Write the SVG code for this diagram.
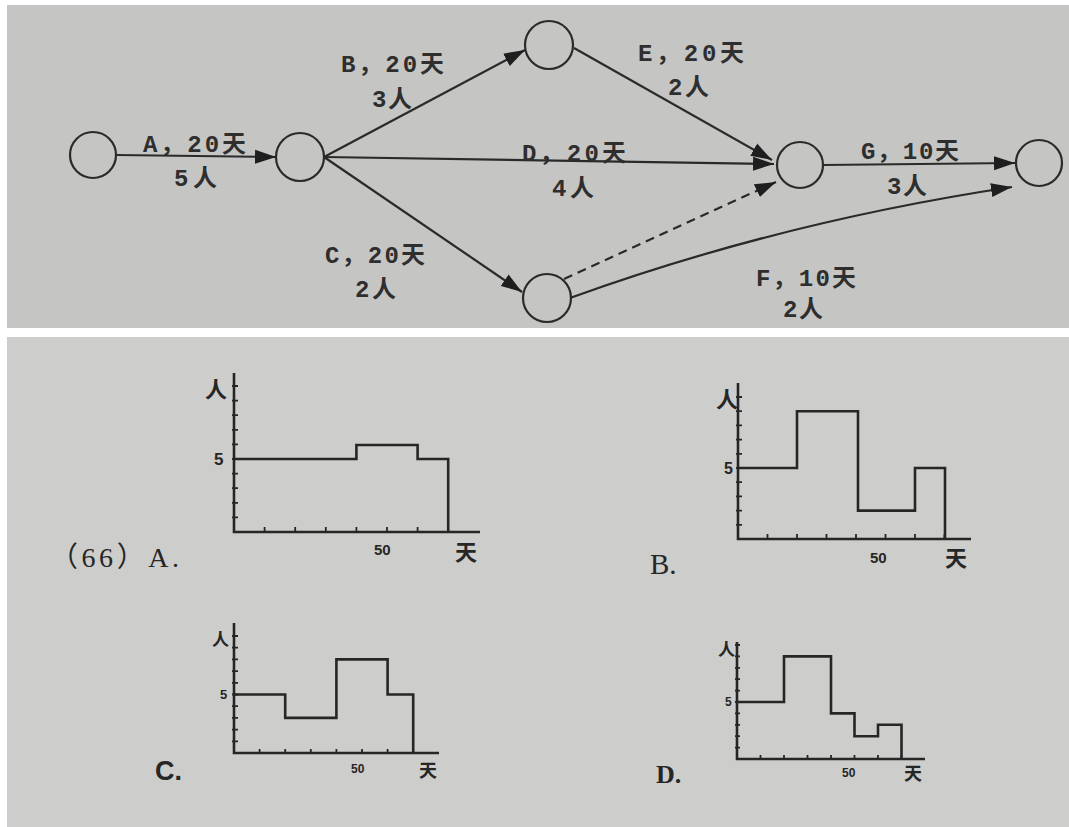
<svg xmlns="http://www.w3.org/2000/svg" width="1069" height="827" viewBox="0 0 1069 827">
<style>
.node{fill:none;stroke:#2a2a2a;stroke-width:2.2}
.edge{fill:none;stroke:#2a2a2a;stroke-width:2.2}
.dash{stroke-dasharray:9 6}
.lbl{font-family:"Liberation Mono","Noto Sans CJK SC",monospace;font-size:24px;font-weight:bold;fill:#2e2e2e}
.ax{fill:none;stroke:#262626;stroke-width:2.6;stroke-linejoin:miter}
.tk{stroke:#262626;stroke-width:1.8}
.ct{font-family:"Liberation Sans","Noto Sans CJK SC",sans-serif;font-weight:bold;fill:#262626}
.cap{font-family:"Liberation Serif","Noto Sans CJK SC",serif;fill:#262626}
</style>
<defs>
<marker id="arr" markerUnits="userSpaceOnUse" markerWidth="22" markerHeight="16" refX="21" refY="8" orient="auto">
<path d="M0,1 L21,8 L0,15 z" fill="#1e1e1e"/>
</marker>
</defs>
<rect width="1069" height="827" fill="#ffffff"/>
<rect x="7" y="5" width="1062" height="323" fill="#c5c5c3"/>
<rect x="7" y="337" width="1062" height="490" fill="#cdcdcb"/>

<g id="connectors">
<line class="edge" x1="117" y1="155" x2="276" y2="157" marker-end="url(#arr)"/>
<line class="edge" x1="324" y1="157" x2="525" y2="50" marker-end="url(#arr)"/>
<line class="edge" x1="324" y1="157" x2="522" y2="292" marker-end="url(#arr)"/>
<line class="edge" x1="324" y1="157" x2="774" y2="164" marker-end="url(#arr)"/>
<line class="edge" x1="574" y1="48" x2="772" y2="160" marker-end="url(#arr)"/>
<line class="edge dash" x1="564" y1="279" x2="776" y2="182" marker-end="url(#arr)"/>
<path class="edge" d="M570,298 Q780,222 1012,187" marker-end="url(#arr)"/>
<line class="edge" x1="823" y1="165" x2="1015" y2="163" marker-end="url(#arr)"/>
<text class="lbl" x="143" y="152" textLength="103">A，20天</text>
<text class="lbl" x="174" y="186" textLength="43">5人</text>
<text class="lbl" x="341" y="72" textLength="103">B，20天</text>
<text class="lbl" x="372" y="107" textLength="40">3人</text>
<text class="lbl" x="325" y="263" textLength="100">C，20天</text>
<text class="lbl" x="355" y="297" textLength="41">2人</text>
<text class="lbl" x="522" y="161" textLength="104">D，20天</text>
<text class="lbl" x="552" y="196" textLength="42">4人</text>
<text class="lbl" x="638" y="61" textLength="106">E，20天</text>
<text class="lbl" x="668" y="95" textLength="41">2人</text>
<text class="lbl" x="756" y="286" textLength="100">F，10天</text>
<text class="lbl" x="783" y="317" textLength="40">2人</text>
<text class="lbl" x="861" y="159" textLength="98">G，10天</text>
<text class="lbl" x="887" y="194" textLength="40">3人</text>
</g>

<g id="n1"><circle class="node" cx="93" cy="155" r="23"/></g>
<g id="n2"><circle class="node" cx="300" cy="157" r="24"/></g>
<g id="n3"><circle class="node" cx="549" cy="45" r="24"/></g>
<g id="n4"><circle class="node" cx="547" cy="298" r="24"/></g>
<g id="n5"><circle class="node" cx="800" cy="165" r="23"/></g>
<g id="n6"><circle class="node" cx="1039" cy="163" r="23"/></g>

<g id="chartA">
<path class="ax" d="M234,373 V532 H480"/>
<path class="tk" d="M232,517.4h6M232,502.8h6M232,488.2h6M232,473.6h6M232,459h6M232,444.4h6M232,429.8h6M232,415.2h6M232,400.6h6M232,386h6M264.6,532v-5M295.2,532v-5M325.8,532v-5M356.4,532v-5M387,532v-5M417.6,532v-5M448.2,532v-5"/>
<path class="ax" d="M234,459 H356.4 V445 H417.6 V459 H448.2 V532"/>
<text class="ct" x="205" y="397" font-size="22">人</text>
<text class="ct" x="214" y="465" font-size="17">5</text>
<text class="ct" x="374" y="555" font-size="15">50</text>
<text class="ct" x="455" y="560" font-size="22">天</text>
<text class="cap" x="50" y="567" font-size="28" textLength="129">（66）A.</text>
</g>

<g id="chartB">
<path class="ax" d="M738,383 V539 H971"/>
<path class="tk" d="M736,524.8h6M736,510.6h6M736,496.4h6M736,482.2h6M736,468h6M736,453.8h6M736,439.6h6M736,425.4h6M736,411.2h6M736,397h6M767.5,539v-5M797,539v-5M826.5,539v-5M856,539v-5M885.5,539v-5M915,539v-5M944.5,539v-5"/>
<path class="ax" d="M738,468 H797 V411.2 H858 V510.6 H915 V468 H945 V539"/>
<text class="ct" x="716" y="407" font-size="22">人</text>
<text class="ct" x="724" y="474" font-size="16">5</text>
<text class="ct" x="870" y="563" font-size="15">50</text>
<text class="ct" x="945" y="566" font-size="22">天</text>
<text class="cap" x="650" y="574" font-size="29">B.</text>
</g>

<g id="chartC">
<path class="ax" d="M234,623 V753 H439"/>
<path class="tk" d="M232,741.3h6M232,729.6h6M232,717.9h6M232,706.2h6M232,694.5h6M232,682.8h6M232,671.1h6M232,659.4h6M232,647.7h6M232,636h6M259.6,753v-4M285.2,753v-4M310.8,753v-4M336.4,753v-4M362,753v-4M387.6,753v-4M413.2,753v-4"/>
<path class="ax" d="M234,694.5 H285.2 V717.9 H336.4 V659.4 H387.6 V694.5 H413.2 V753"/>
<text class="ct" x="212" y="646" font-size="17">人</text>
<text class="ct" x="220" y="699" font-size="13">5</text>
<text class="ct" x="351" y="773" font-size="12">50</text>
<text class="ct" x="419" y="777" font-size="18">天</text>
<text class="ct" x="155" y="780" font-size="27">C.</text>
</g>

<g id="chartD">
<path class="ax" d="M737,642 V759 H925"/>
<path class="tk" d="M735,747.6h5M735,736.2h5M735,724.8h5M735,713.4h5M735,702h5M735,690.6h5M735,679.2h5M735,667.8h5M735,656.4h5M735,645h5M760.5,759v-4M784,759v-4M807.5,759v-4M831,759v-4M854.5,759v-4M878,759v-4M901.5,759v-4"/>
<path class="ax" d="M737,702 H784 V656.4 H831 V713.4 H854.5 V736.2 H878 V724.8 H901.5 V759"/>
<text class="ct" x="718" y="656" font-size="17">人</text>
<text class="ct" x="725" y="706" font-size="12">5</text>
<text class="ct" x="842" y="777" font-size="12">50</text>
<text class="ct" x="904" y="780" font-size="18">天</text>
<text class="cap" x="656" y="783" font-size="26" font-weight="bold">D.</text>
</g>
</svg>
